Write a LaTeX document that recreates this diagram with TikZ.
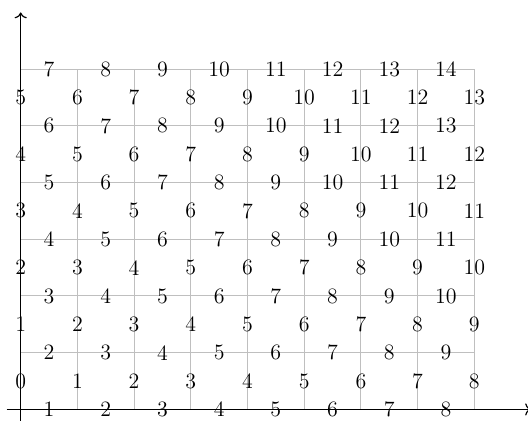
\documentclass[tikz,border=0pt]{standalone}
\usepackage{tikz}
\usetikzlibrary{arrows.meta}
\tikzset{
  gridline/.style={draw=lightgray, line width=0.5pt},
  axis/.style={->, draw=black, line width=0.6pt},
  val/.style={inner sep=1pt, font=\fontsize{11}{13}\selectfont}
}
\begin{document}
\begin{tikzpicture}
  \useasboundingbox (-0.365,-0.189) rectangle (8.947,7.22);
  \draw[gridline] (0,0) grid (8,6);
  \draw[axis] (-0.25,0) -- (9,0);
  \draw[axis] (0,-0.25) -- (0,7);
  % values in the cells
  \foreach \j in {0,...,5}{
    \foreach \i in {0,...,8}{
      \pgfmathtruncatemacro{\v}{\i+\j}
      \node[val] (p-\i-\j) at (\i,\j+0.5) {\v};
    }
  }
  % values on the horizontal lines
  \foreach \j in {0,...,6}{
    \foreach \i in {0,...,7}{
      \pgfmathtruncatemacro{\v}{\i+\j+1}
      \node[val] (q-\i-\j) at (\i+0.5,\j) {\v};
    }
  }
\end{tikzpicture}
\end{document}
